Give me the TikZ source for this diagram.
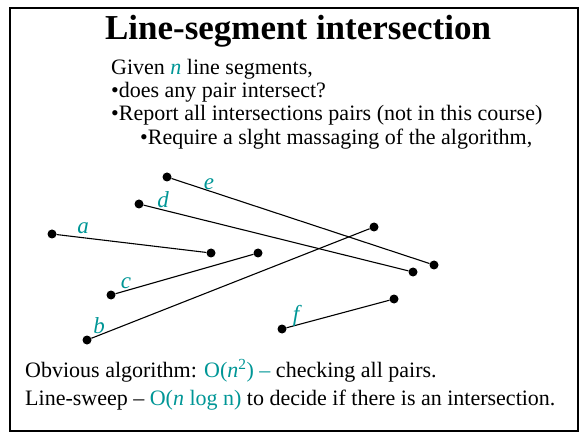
\documentclass[tikz,border=0pt]{standalone}
\usepackage{fontspec}
\setmainfont{Liberation Serif}
\usepackage{xcolor}
\usepackage{tikz}
\usetikzlibrary{positioning}
\definecolor{teal}{RGB}{0,150,150}

\begin{document}
\begin{tikzpicture}[x=1pt,y=-1pt,every node/.style={font=\fontsize{22}{26}\selectfont}]
\tikzstyle{pt}=[circle,fill=black,inner sep=0pt,minimum size=9pt]
\tikzstyle{lbl}=[text=teal,inner sep=0pt,font=\fontsize{23}{26}\selectfont\itshape]
\tikzstyle{txt}=[anchor=base west,inner sep=0pt]
\tikzstyle{seg}=[line width=1.1pt]
\useasboundingbox (0,0) rectangle (579,433);
\draw[line width=1.6pt] (10,8) rectangle (578,431);
\node[anchor=base,inner sep=0pt,font=\fontsize{35}{40}\selectfont\bfseries] (title) at (298,40) {Line-segment intersection};
\node[txt] (given) at (111,75) {Given \textcolor{teal}{\textit{n}} line segments,};
\node[txt] (any) at (111,98) {•does any pair intersect?};
\node[txt] (report) at (111,121) {•Report all intersections pairs (not in this course)};
\node[txt] (require) at (140,145) {•Require a slght massaging of the algorithm,};
% segments
\node[pt] (e1) at (167,177) {};
\node[pt] (e2) at (434,265) {};
\node[pt] (d1) at (139,204) {};
\node[pt] (d2) at (413,272) {};
\node[pt] (a1) at (52,234) {};
\node[pt] (a2) at (211,253) {};
\node[pt] (c1) at (111,295) {};
\node[pt] (c2) at (258,253) {};
\node[pt] (b1) at (87,340) {};
\node[pt] (b2) at (374,227) {};
\node[pt] (f1) at (282,329) {};
\node[pt] (f2) at (394,299) {};
\draw[seg] (e1)--(e2); \draw[seg] (d1)--(d2); \draw[seg] (a1)--(a2);
\draw[seg] (c1)--(c2); \draw[seg] (b1)--(b2); \draw[seg] (f1)--(f2);
\node[lbl] (le) at (209,184) {e};
\node[lbl] (ld) at (163,200) {d};
\node[lbl] (la) at (83,228) {a};
\node[lbl] (lc) at (126,283) {c};
\node[lbl] (lb) at (99,326) {b};
\node[lbl] (lf) at (296,316) {f};
% bottom lines
\node[txt] (obvious) at (25,377) {Obvious algorithm: \textcolor{teal}{O(\textit{n}\textsuperscript{2}) –} checking all pairs.};
\node[txt] (sweep) at (25,405) {Line-sweep – \textcolor{teal}{O(\textit{n} log n)} to decide if there is an intersection.};
\end{tikzpicture}
\end{document}
